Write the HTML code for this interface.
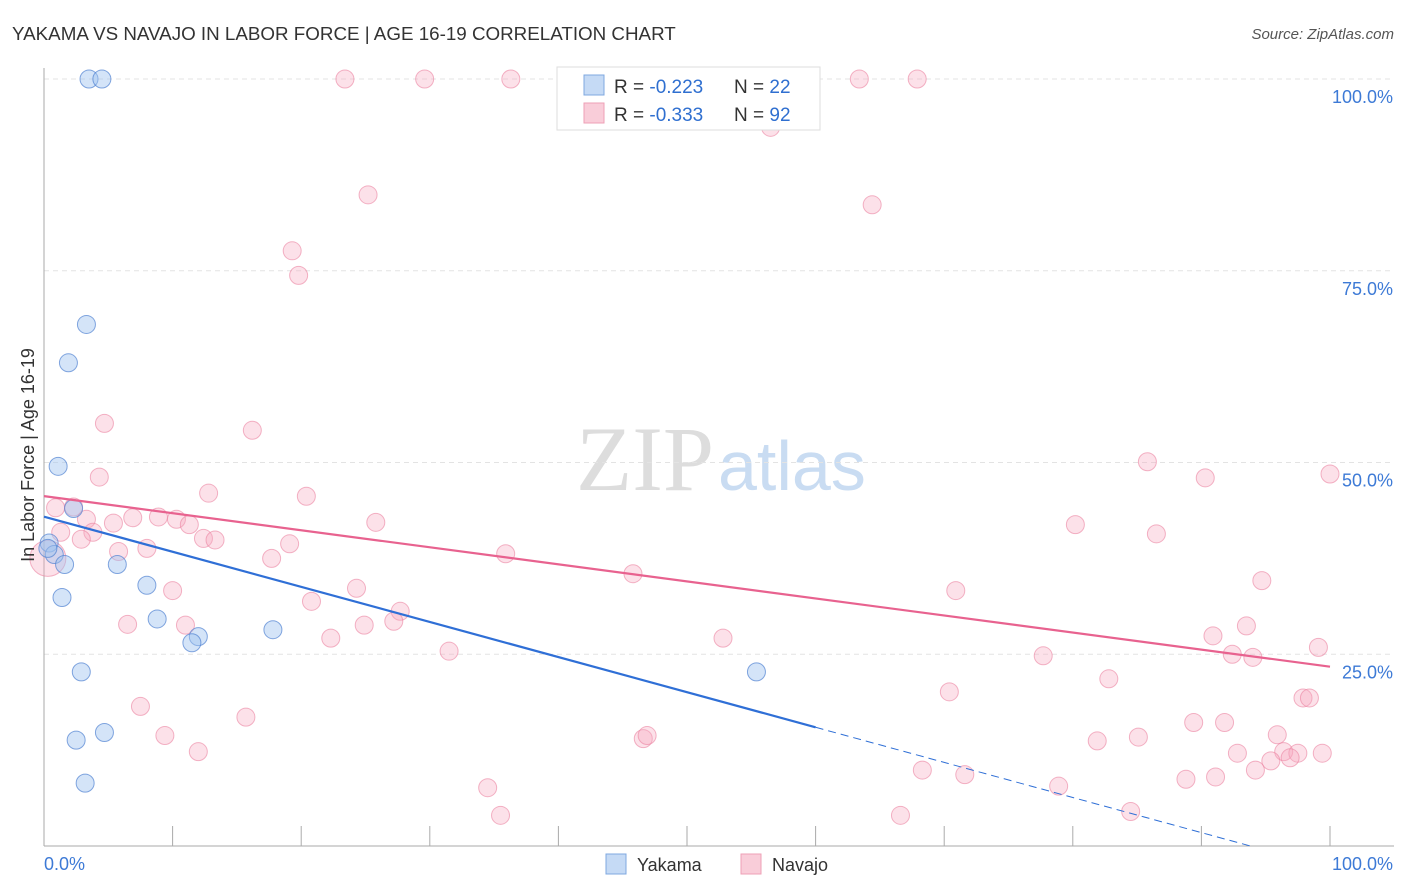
<!DOCTYPE html>
<html><head><meta charset="utf-8"><style>
body{margin:0;background:#fff;font-family:"Liberation Sans",sans-serif;}
svg{display:block}
</style></head><body>
<svg id="chart" width="1406" height="892">
<text x="12" y="40" font-size="18.8" fill="#333">YAKAMA VS NAVAJO IN LABOR FORCE | AGE 16-19 CORRELATION CHART</text>
<text x="1394" y="39" font-size="15" fill="#555" text-anchor="end" font-style="italic">Source: ZipAtlas.com</text>
<text x="714" y="490" font-size="92" fill="#ddd" text-anchor="end" font-family="Liberation Serif">ZIP</text>
<text x="718" y="490" font-size="70" fill="#c9dcf2">atlas</text>
<g id="grid"></g>
<g id="axes"></g>
<g id="marks"></g>
<text transform="translate(34,455) rotate(-90)" font-size="18" fill="#333" text-anchor="middle">In Labor Force | Age 16-19</text>
<g>
<rect x="557" y="67" width="263" height="63" fill="#fff" stroke="#ddd"/>
<rect x="584" y="75" width="20" height="20" fill="#c5daf5" stroke="#7fa8e0"/>
<rect x="584" y="103" width="20" height="20" fill="#f9cdd9" stroke="#eea0b6"/>
<text x="614" y="93" font-size="19" fill="#333">R = <tspan fill="#2f6fd0">-0.223</tspan></text>
<text x="734" y="93" font-size="19" fill="#333">N = <tspan fill="#2f6fd0">22</tspan></text>
<text x="614" y="121" font-size="19" fill="#333">R = <tspan fill="#2f6fd0">-0.333</tspan></text>
<text x="734" y="121" font-size="19" fill="#333">N = <tspan fill="#2f6fd0">92</tspan></text>
</g>
<g>
<rect x="606" y="854" width="20" height="20" fill="#c5daf5" stroke="#7fa8e0"/>
<text x="637" y="871" font-size="18" fill="#333">Yakama</text>
<rect x="741" y="854" width="20" height="20" fill="#f9cdd9" stroke="#eea0b6"/>
<text x="772" y="871" font-size="18" fill="#333">Navajo</text>
</g>
</svg>
<script>
const yTicks=[25,50,75,100];
const yTickLabels=["25.0%","50.0%","75.0%","100.0%"];
const yakamaX=[3.5,4.5,3.3,1.9,1.1,2.3,0.4,0.8,1.6,5.7,1.4,8.0,8.8,12.0,11.5,17.8,2.9,55.4,4.7,2.5,3.2,0.3];
const yakamaY=[100,100,68,63,49.5,44,39.5,38,36.7,36.7,32.4,34,29.6,27.3,26.5,28.2,22.7,22.7,14.8,13.8,8.2,38.8];
const navajoX=[23.4,29.6,36.3,63.4,67.9,56.5,25.2,64.4,19.3,19.8,4.7,16.2,4.3,85.8,90.3,100,12.8,20.4,0.9,2.3,3.3,1.3,3.8,5.4,6.9,8.9,10.3,11.3,25.8,80.2,86.5,12.4,13.3,2.9,8.0,5.8,17.7,19.1,35.9,45.8,94.7,10.0,24.3,70.9,20.8,27.7,27.2,24.9,6.5,11.0,22.3,52.8,90.9,93.5,99.1,31.5,77.7,92.4,94.0,82.8,70.4,97.9,98.4,7.5,15.7,89.4,91.8,81.9,85.1,9.4,12.0,46.6,46.9,95.9,96.4,92.8,97.5,96.9,99.4,95.4,68.3,71.6,94.2,91.1,88.8,34.5,78.9,35.5,66.6,84.5,0.3];
const navajoY=[100,100,100,100,100,93.7,84.9,83.6,77.6,74.4,55.1,54.2,48.1,50.1,48,48.5,46,45.6,44.1,44.2,42.6,40.9,40.9,42.1,42.8,42.9,42.6,41.9,42.2,41.9,40.7,40.1,39.9,40.0,38.8,38.4,37.5,39.4,38.1,35.5,34.6,33.3,33.6,33.3,31.9,30.6,29.3,28.8,28.9,28.8,27.1,27.1,27.4,28.7,25.9,25.4,24.8,25.0,24.6,21.8,20.1,19.3,19.3,18.2,16.8,16.1,16.1,13.7,14.2,14.4,12.3,14.0,14.4,14.5,12.3,12.1,12.1,11.5,12.1,11.1,9.9,9.3,9.9,9.0,8.7,7.6,7.8,4.0,4.0,4.5,37.5];
const X=v=>44+v/100*1286, Y=v=>846-v/100*767;
const NS="http://www.w3.org/2000/svg";
function mk(tag,attrs,parent){const e=document.createElementNS(NS,tag);for(const k in attrs)e.setAttribute(k,attrs[k]);parent.appendChild(e);return e;}
const grid=document.getElementById('grid'),axes=document.getElementById('axes'),marks=document.getElementById('marks');
yTicks.forEach((t,i)=>{
 const l=mk('line',{x1:44,x2:1394,y1:Y(t),y2:Y(t),stroke:'#e3e3e3','stroke-dasharray':'5,4'},grid);
 
 
 const tx=mk('text',{x:1393,y:Y(t)+24,'font-size':18,fill:'#3d7ad6','text-anchor':'end'},axes);
 tx.textContent=yTickLabels[i];
 
 
});
const ya=mk('line',{x1:44,x2:44,y1:68,y2:846,stroke:'#aaa'},axes);


const xa=mk('line',{x1:44,x2:1394,y1:846,y2:846,stroke:'#aaa'},axes);


for(let i=0;i<=10;i++){const tk=mk('line',{x1:X(i*10),x2:X(i*10),y1:826,y2:846,stroke:'#aaa'},axes);
 
 }
const xl0=mk('text',{x:44,y:870,'font-size':18,fill:'#3d7ad6'},axes);xl0.textContent='0.0%';


const xl1=mk('text',{x:1393,y:870,'font-size':18,fill:'#3d7ad6','text-anchor':'end'},axes);xl1.textContent='100.0%';


navajoX.forEach((x,i)=>{const r=i===navajoX.length-1?18:9;
 const c=mk('circle',{cx:X(x),cy:Y(navajoY[i]),r:r,fill:'rgba(246,170,192,0.35)',stroke:'rgba(235,130,160,0.6)','stroke-width':1},marks);
 
 });
yakamaX.forEach((x,i)=>{
 const c=mk('circle',{cx:X(x),cy:Y(yakamaY[i]),r:9,fill:'rgba(160,195,240,0.45)',stroke:'rgba(80,130,210,0.7)','stroke-width':1},marks);
 
 });
function fit(xs,ys){const n=xs.length,mx=xs.reduce((a,b)=>a+b)/n,my=ys.reduce((a,b)=>a+b)/n;let sxy=0,sxx=0;xs.forEach((x,i)=>{sxy+=(x-mx)*(ys[i]-my);sxx+=(x-mx)**2});const b=sxy/sxx;return [my-b*mx,b];}
const [na,nb]=fit(navajoX,navajoY);
const nl=mk('line',{x1:X(0),y1:Y(na),x2:X(100),y2:Y(na+nb*100),stroke:'#e8628f','stroke-width':2.2},marks);


const [ya0,yb]=fit(yakamaX,yakamaY);
const yl=mk('line',{x1:X(0),y1:Y(ya0),x2:X(60),y2:Y(ya0+yb*60),stroke:'#2f6fd6','stroke-width':2.2},marks);


const xe=Math.min(100,-ya0/yb);
const yd=mk('line',{x1:X(60),y1:Y(ya0+yb*60),x2:X(xe),y2:Y(ya0+yb*xe),stroke:'#2f6fd6','stroke-width':1,'stroke-dasharray':'8,5'},marks);


</script>
</body></html>
